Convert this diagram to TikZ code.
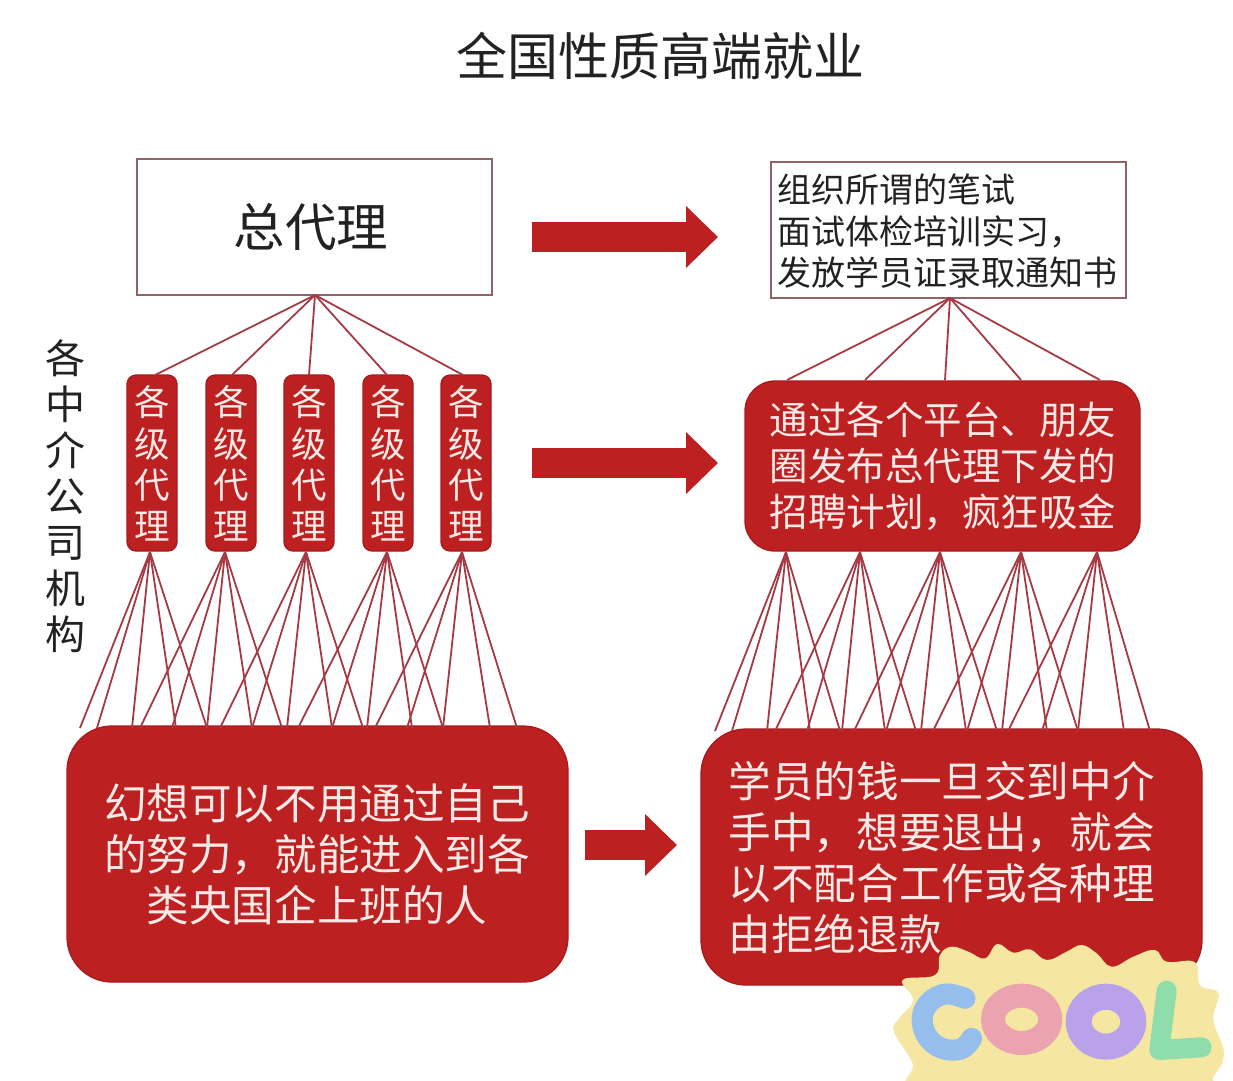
\documentclass[tikz,border=0pt]{standalone}
\usepackage{fontspec}
\setmainfont{Noto Sans CJK SC}
\usetikzlibrary{arrows.meta}
\definecolor{boxred}{HTML}{BC2020}
\definecolor{boxedge}{HTML}{A81A1E}
\definecolor{fanred}{HTML}{A53A44}
\definecolor{softwhite}{HTML}{F7E9E6}
\definecolor{inkdark}{HTML}{222222}
\definecolor{thinedge}{HTML}{8E6468}
\definecolor{clayyellow}{HTML}{F5E6A2}
\definecolor{clayblue}{HTML}{96BEEC}
\definecolor{claypink}{HTML}{EBA3B0}
\definecolor{claypurple}{HTML}{B9A2EA}
\definecolor{claygreen}{HTML}{90DDAC}
\tikzset{
  plainbox/.style={draw=thinedge,line width=1.3pt,fill=white,inner sep=0pt},
  redbox/.style={draw=boxedge,line width=1.3pt,fill=boxred,inner sep=0pt},
  agentbox/.style={redbox,rounded corners=9pt,minimum width=50pt,minimum height=176pt,
     text=softwhite,align=center,font=\fontsize{35.5}{41}\selectfont},
  darktext/.style={text=inkdark,inner sep=0pt},
  whitetext/.style={text=softwhite,inner sep=0pt},
  fan/.style={draw=fanred,line width=1.8pt},
  bigarrow/.style={draw=boxred,line width=30pt,-{Triangle[width=60pt,length=32pt]}},
}
\begin{document}
\begin{tikzpicture}[x=1pt,y=-1pt]
\useasboundingbox (0,0) rectangle (1233,1080);

% title and side label
\node[darktext,font=\fontsize{51}{56}\selectfont] (title) at (660,56) {全国性质高端就业};
\node[darktext,align=center,font=\fontsize{40}{46}\selectfont] (side) at (65,496)
  {各\\中\\介\\公\\司\\机\\构};

% left column
\node[plainbox,minimum width=355pt,minimum height=136pt,font=\fontsize{51.5}{56}\selectfont,text=inkdark]
  (zong) at (314.5,227) {\hspace*{-7pt}总代理};
\foreach \n/\x in {1/152,2/231,3/309,4/388,5/466}
  \node[agentbox] (ag\n) at (\x,463) {\raisebox{1pt}{各}\\级\\代\\理};
\node[redbox,rounded corners=45pt,minimum width=501pt,minimum height=256pt] (people) at (317.5,854) {};
\node[whitetext,align=center,font=\fontsize{42.6}{51}\selectfont] (peopletxt) at (317,854)
  {幻想可以不用通过自己\\的努力，就能进入到各\\类央国企上班的人};

% right column
\node[plainbox,minimum width=355pt,minimum height=136pt] (org) at (948.5,230) {};
\node[darktext,anchor=west,align=left,font=\fontsize{34}{41.5}\selectfont] (orgtxt) at (777,231.5)
  {组织所谓的笔试\\面试体检培训实习，\\发放学员证录取通知书};
\node[redbox,rounded corners=30pt,minimum width=395pt,minimum height=170pt] (plat) at (942.5,466) {};
\node[whitetext,anchor=west,align=left,font=\fontsize{38.5}{46}\selectfont] (plattxt) at (769.5,466.5)
  {通过各个平台、朋友\\圈发布总代理下发的\\招聘计划，疯狂吸金};
\node[redbox,rounded corners=45pt,minimum width=501pt,minimum height=256pt] (money) at (951.5,857) {};
\node[whitetext,anchor=west,align=left,font=\fontsize{42.6}{51}\selectfont] (moneytxt) at (728.5,857.5)
  {学员的钱一旦交到中介\\手中，想要退出，就会\\以不配合工作或各种理\\由拒绝退款};

% anchor points of the fans
\coordinate (zapex) at (315,295);
\coordinate (oapex) at (950,298);
\foreach \n/\x in {1/155,2/232,3/309,4/387,5/463}
  \coordinate (zfoot\n) at (\x,375);
\foreach \n/\x in {1/787,2/865,3/945,4/1021,5/1100}
  \coordinate (ofoot\n) at (\x,380);

% top fans
\foreach \n in {1,...,5} {
  \draw[fan] (zapex) -- (zfoot\n);
  \draw[fan] (oapex) -- (ofoot\n);
}

% agents to people
\foreach \n/\x/\feet in {
  1/150/{80,97,132,176,207},
  2/225/{140,172,207,252,282},
  3/306/{220,252,287,332,363},
  4/387/{298,332,367,412,443},
  5/462/{375,407,443,490,517}} {
  \coordinate (lapex\n) at (\x,552);
  \foreach \f in \feet {
    \coordinate (lfoot) at (\f,728);
    \draw[fan] (lapex\n) -- (lfoot);
  }
}
% platform to money
\foreach \n/\x/\feet in {
  1/786/{715,732,767,810,840},
  2/860/{775,807,842,885,916},
  3/940/{854,886,921,966,997},
  4/1021/{933,967,1002,1047,1078},
  5/1097/{1008,1042,1078,1124,1150}} {
  \coordinate (rapex\n) at (\x,552);
  \foreach \f in \feet {
    \coordinate (rfoot) at (\f,731);
    \draw[fan] (rapex\n) -- (rfoot);
  }
}

% block arrows
\coordinate (a1s) at (532,237); \coordinate (a1e) at (718,237);
\coordinate (a2s) at (532,463); \coordinate (a2e) at (718,463);
\coordinate (a3s) at (585,845); \coordinate (a3e) at (677,845);
\draw[bigarrow] (a1s) -- (a1e);
\draw[bigarrow] (a2s) -- (a2e);
\draw[bigarrow] (a3s) -- (a3e);

% COOL sticker
\begin{scope}
\clip (0,0) rectangle (1233,1080);
\begin{scope}[shift={(880,930)},x=0.3333pt,y=-0.3333pt]
  \fill[clayyellow] plot[smooth cycle,tension=0.7] coordinates {
    (68,150)(165,135)(180,75)(215,50)(265,65)(315,85)(352,42)(400,68)(450,58)(500,90)
    (560,65)(605,45)(650,70)(695,110)(760,80)(825,60)(860,95)(945,97)(960,165)(1015,190)
    (1000,270)(1032,370)(1000,440)(960,480)(500,500)(110,480)(98,400)(42,305)(60,262)(100,210)};
  \draw[clayblue,line width=21pt,line cap=round,line join=round]
    plot[smooth,tension=0.7] coordinates {(255,205)(190,193)(135,235)(132,300)(175,350)(240,358)(275,325)};
  \draw[claypink,line width=24pt] (425,268) ellipse[x radius=86,y radius=71];
  \draw[claypurple,line width=26pt] (678,275) ellipse[x radius=82,y radius=75];
  \draw[claygreen,line width=20pt,line cap=round,line join=round]
    (860,182) -- (838,360) -- (965,352);
\end{scope}
\end{scope}
\end{tikzpicture}
\end{document}
